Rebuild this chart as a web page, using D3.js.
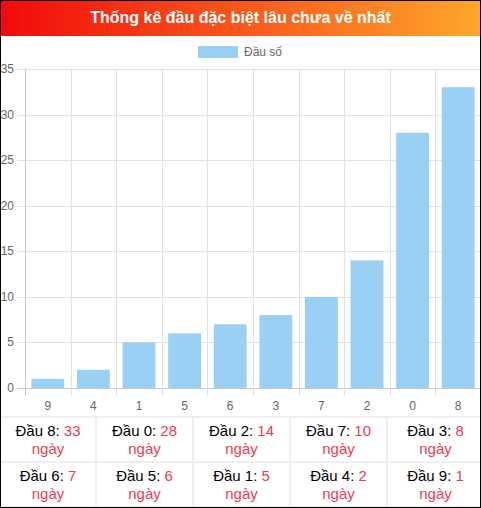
<!DOCTYPE html>
<html>
<head>
<meta charset="utf-8">
<script src="https://cdn.jsdelivr.net/npm/d3@7/dist/d3.min.js"></script>
<style>
  html, body { margin: 0; padding: 0; background: #fff; }
  #wrap { position: relative; width: 481px; height: 508px; box-sizing: border-box;
          border: 1px solid #000; overflow: hidden; font-family: "Liberation Sans", Arial, sans-serif; }
  #head { position: absolute; left: 0; top: 0; width: 479px; height: 35px;
          background: linear-gradient(90deg, #f20a0a 0%, #f7501a 45%, #ffa62b 100%);
          color: #fff; font-weight: bold; font-size: 16px; line-height: 34px; text-align: center; }
  #chart { position: absolute; left: 0; top: 0; }
  #tbl { position: absolute; left: -2px; top: 415px; width: 484px; border-collapse: collapse; table-layout: fixed; }
  #tbl td { border: 2px solid #efefef; text-align: center; font-size: 15px; line-height: 18px;
            height: 43px; padding: 0; color: #000; vertical-align: middle; }
  #tbl .r { color: #f03c52; }
</style>
</head>
<body>
<div id="wrap">
  <svg id="chart" width="479" height="415"></svg>
  <div id="head">Thống kê đầu đặc biệt lâu chưa về nhất</div>
  <table id="tbl">
    <colgroup><col style="width:96px"><col style="width:97px"><col style="width:97px"><col style="width:97px"><col style="width:97px"></colgroup>
  </table>
</div>
<script>
// data
var digits = ["9", "4", "1", "5", "6", "3", "7", "2", "0", "8"];
var days = [1, 2, 5, 6, 7, 8, 10, 14, 28, 33];
var yTicks = [0, 5, 10, 15, 20, 25, 30, 35];
var seriesName = "Đầu số";

var plotL = 24, plotR = 480, plotT = 68, plotB = 387;

var svg = d3.select("#chart");

var x = d3.scaleBand()
  .domain(digits)
  .range([plotL, plotR]);

var y = d3.scaleLinear()
  .domain([0, 35])
  .range([plotB, plotT]);

// horizontal grid + y ticks
svg.append("g")
  .selectAll("line")
  .data(yTicks)
  .enter()
  .append("line")
    .attr("x1", plotL - 8)
    .attr("x2", plotR)
    .attr("y1", function(d){ return Math.round(y(d)) + 0.5 })
    .attr("y2", function(d){ return Math.round(y(d)) + 0.5 })
    .attr("stroke", function(d){ return d == 0 ? "#c8c8c8" : "#e2e2e2" });

// vertical grid (band edges) with tick marks below
var edges = digits.map(function(d){ return x(d) });
svg.append("g")
  .selectAll("line")
  .data(edges)
  .enter()
  .append("line")
    .attr("x1", function(d){ return Math.round(d) + 0.5 })
    .attr("x2", function(d){ return Math.round(d) + 0.5 })
    .attr("y1", plotT)
    .attr("y2", plotB + 8)
    .attr("stroke", function(d, i){ return i == 0 ? "#c8c8c8" : "#e2e2e2" });

// y labels
svg.append("g")
  .selectAll("text")
  .data(yTicks)
  .enter()
  .append("text")
    .attr("x", 13)
    .attr("y", function(d){ return y(d) + 4 })
    .attr("text-anchor", "end")
    .attr("font-size", 12)
    .attr("fill", "#666")
    .text(function(d){ return d });

// x labels
svg.append("g")
  .selectAll("text")
  .data(digits)
  .enter()
  .append("text")
    .attr("x", function(d){ return x(d) + x.bandwidth() / 2 })
    .attr("y", 409)
    .attr("text-anchor", "middle")
    .attr("font-size", 12)
    .attr("fill", "#666")
    .text(function(d){ return d });

// bars
var barW = x.bandwidth() * 0.72;
svg.append("g")
  .selectAll("rect")
  .data(digits)
  .enter()
  .append("rect")
    .attr("x", function(d){ return x(d) + (x.bandwidth() - barW) / 2 })
    .attr("y", function(d, i){ return y(days[i]) })
    .attr("width", barW)
    .attr("height", function(d, i){ return plotB - y(days[i]) })
    .attr("fill", "#9bd0f5");

// legend
svg.append("rect")
  .attr("x", 197).attr("y", 45)
  .attr("width", 40).attr("height", 12)
  .attr("fill", "#9bd0f5");
svg.append("text")
  .attr("x", 243).attr("y", 55)
  .attr("font-size", 12)
  .attr("fill", "#666")
  .text(seriesName);

// table, longest first
var order = d3.range(digits.length).sort(function(a, b){ return days[b] - days[a] });
var rows = [order.slice(0, 5), order.slice(5, 10)];
d3.select("#tbl")
  .selectAll("tr")
  .data(rows)
  .enter()
  .append("tr")
  .selectAll("td")
  .data(function(r){ return r })
  .enter()
  .append("td")
    .html(function(i){
      return "Đầu " + digits[i] + ": <span class='r'>" + days[i] + "</span><br><span class='r'>ngày</span>";
    });
</script>
</body>
</html>
